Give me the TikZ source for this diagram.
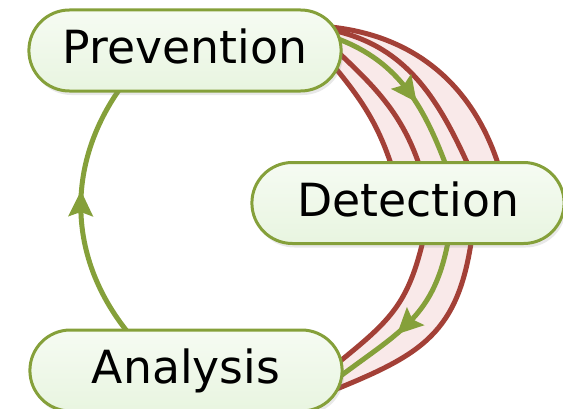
\documentclass[tikz,border=0pt]{standalone}
\usepackage{fontspec}
\setsansfont{DejaVu Sans}
\usetikzlibrary{positioning, arrows.meta, calc, shapes.misc, shadows, decorations.markings, backgrounds}
\definecolor{leafgreen}{RGB}{133,160,58}
\definecolor{brickred}{RGB}{163,64,55}
\definecolor{paleblush}{RGB}{249,233,233}
\definecolor{palemint}{RGB}{232,245,224}
\tikzset{
  stage/.style={
    rounded rectangle, draw=leafgreen, line width=0.09cm,
    top color=white!60!palemint, bottom color=palemint,
    minimum width=9.6cm, minimum height=2.43cm,
    text height=0.99cm, text depth=0.21cm,
    font=\sffamily\fontsize{39}{40}\selectfont,
    drop shadow={shadow xshift=0.06cm, shadow yshift=-0.12cm, opacity=0.18}
  },
  flow/.style={
    draw=leafgreen, line width=0.15cm,
    postaction={decorate},
    decoration={markings, mark=at position #1 with {
      \fill[leafgreen] (0.4cm,0) -- (-0.38cm,0.38cm) -- (-0.24cm,0) -- (-0.38cm,-0.38cm) -- cycle;}}
  },
  tube/.style={draw=brickred, line width=0.15cm},
  tubefill/.style={fill=paleblush}
}

\begin{document}
\begin{tikzpicture}[x=0.03cm, y=0.03cm]
\useasboundingbox (0,0) rectangle (563,408);

% Stages
\node[stage] (prev) at (185, 357.5) {Prevention};
\node[stage] (det) at (408, 205) {Detection};
\node[stage] (ana) at (186, 37.5) {Analysis};

\begin{scope}[on background layer]
% Prevention -> Detection (band)
\fill[tubefill] ($(prev.east)+(-12,23.5)$) to[out=-6,in=106] ($(det.north)+(93,-12.5)$)
  -- ($(det.north)+(-14,-12.5)$) to[out=107,in=-50] ($(prev.east)+(-13,-10.5)$) -- cycle;
\draw[tube] ($(prev.east)+(-12,23.5)$) to[out=-6,in=106] ($(det.north)+(93,-12.5)$);
\draw[tube] ($(prev.east)+(-11,20.5)$) to[out=-12,in=114] ($(det.north)+(64,-12.5)$);
\draw[tube] ($(prev.east)+(-9,2.5)$) to[out=-43,in=107] ($(det.north)+(14,-12.5)$);
\draw[tube] ($(prev.east)+(-13,-10.5)$) to[out=-50,in=107] ($(det.north)+(-14,-12.5)$);
\draw[flow=0.5] ($(prev.east)+(-7,12.5)$) to[out=-20,in=110] ($(det.north)+(41,-12.5)$);

% Detection -> Analysis (band)
\fill[tubefill] ($(det.south)+(16,8.5)$) to[out=-103,in=39,looseness=1.15] ($(ana.east)+(-7,6.5)$)
  -- ($(ana.east)+(-12,-20.5)$) to[out=22,in=-98,looseness=1.2] ($(det.south)+(64,8.5)$) -- cycle;
\draw[tube] ($(det.south)+(16,8.5)$) to[out=-103,in=39,looseness=1.15] ($(ana.east)+(-7,6.5)$);
\draw[tube] ($(det.south)+(64,8.5)$) to[out=-98,in=22,looseness=1.2] ($(ana.east)+(-12,-20.5)$);
\draw[flow=0.53] ($(det.south)+(41,8.5)$) to[out=-100,in=37,looseness=1.15] ($(ana.east)+(-7,-8.5)$);

% Analysis -> Prevention
\draw[flow=0.53] ($(ana.north)+(-58,-4)$) to[bend left=37] ($(prev.south)+(-65,4)$);
\end{scope}

\end{tikzpicture}
\end{document}
